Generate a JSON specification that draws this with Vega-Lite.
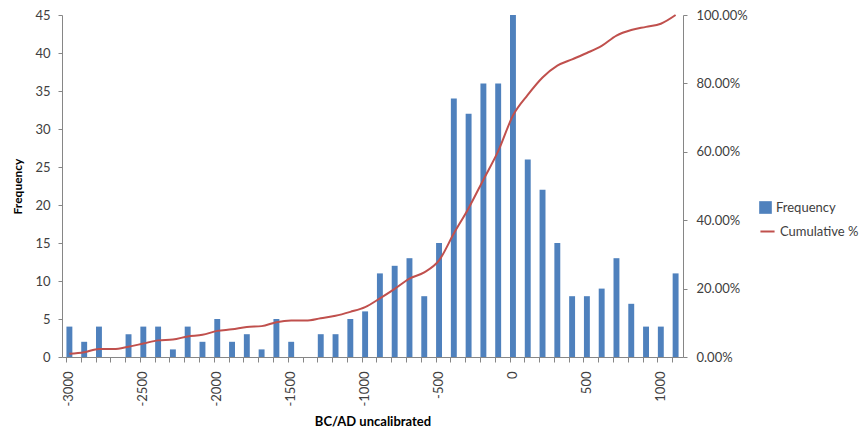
{
  "$schema": "https://vega.github.io/schema/vega-lite/v6.json",
  "width": 621,
  "height": 342,
  "autosize": {"type": "none"},
  "padding": {"left": 62, "top": 15, "right": 182, "bottom": 82},
  "background": "white",
  "config": {
    "font": "Lato",
    "view": {"stroke": null},
    "axis": {"labelFont": "Lato", "titleFont": "Lato", "labelFontSize": 13, "titleFontSize": 12, "labelColor": "#404040", "titleColor": "#000000", "domainColor": "#868686", "tickColor": "#868686", "grid": false}
  },
  "data": {"values": [
    {"bin": -3000, "freq": 4, "cum": 0.00926},
    {"bin": -2900, "freq": 2, "cum": 0.01389},
    {"bin": -2800, "freq": 4, "cum": 0.02315},
    {"bin": -2700, "freq": 0, "cum": 0.02315},
    {"bin": -2600, "freq": 3, "cum": 0.03009},
    {"bin": -2500, "freq": 4, "cum": 0.03935},
    {"bin": -2400, "freq": 4, "cum": 0.04861},
    {"bin": -2300, "freq": 1, "cum": 0.05093},
    {"bin": -2200, "freq": 4, "cum": 0.06019},
    {"bin": -2100, "freq": 2, "cum": 0.06481},
    {"bin": -2000, "freq": 5, "cum": 0.07639},
    {"bin": -1900, "freq": 2, "cum": 0.08102},
    {"bin": -1800, "freq": 3, "cum": 0.08796},
    {"bin": -1700, "freq": 1, "cum": 0.09028},
    {"bin": -1600, "freq": 5, "cum": 0.10185},
    {"bin": -1500, "freq": 2, "cum": 0.10648},
    {"bin": -1400, "freq": 0, "cum": 0.10648},
    {"bin": -1300, "freq": 3, "cum": 0.11343},
    {"bin": -1200, "freq": 3, "cum": 0.12037},
    {"bin": -1100, "freq": 5, "cum": 0.13194},
    {"bin": -1000, "freq": 6, "cum": 0.14583},
    {"bin": -900, "freq": 11, "cum": 0.17130},
    {"bin": -800, "freq": 12, "cum": 0.19907},
    {"bin": -700, "freq": 13, "cum": 0.22917},
    {"bin": -600, "freq": 8, "cum": 0.24769},
    {"bin": -500, "freq": 15, "cum": 0.28241},
    {"bin": -400, "freq": 34, "cum": 0.36111},
    {"bin": -300, "freq": 32, "cum": 0.43519},
    {"bin": -200, "freq": 36, "cum": 0.51852},
    {"bin": -100, "freq": 36, "cum": 0.60185},
    {"bin": 0, "freq": 45, "cum": 0.70602},
    {"bin": 100, "freq": 26, "cum": 0.76620},
    {"bin": 200, "freq": 22, "cum": 0.81713},
    {"bin": 300, "freq": 15, "cum": 0.85185},
    {"bin": 400, "freq": 8, "cum": 0.87037},
    {"bin": 500, "freq": 8, "cum": 0.88889},
    {"bin": 600, "freq": 9, "cum": 0.90972},
    {"bin": 700, "freq": 13, "cum": 0.93981},
    {"bin": 800, "freq": 7, "cum": 0.95602},
    {"bin": 900, "freq": 4, "cum": 0.96528},
    {"bin": 1000, "freq": 4, "cum": 0.97454},
    {"bin": 1100, "freq": 11, "cum": 1.0}
  ]},
  "encoding": {
    "x": {
      "field": "bin", "type": "ordinal", "sort": "ascending",
      "scale": {"paddingInner": 0.6, "paddingOuter": 0.3},
      "axis": {
        "title": "BC/AD uncalibrated", "titleFontWeight": "bold", "titleFontSize": 13, "titlePadding": 10,
        "labelAngle": -90, "labelPadding": 9, "tickSize": 5, "bandPosition": 0,
        "labelExpr": "datum.value % 500 === 0 ? datum.label : ''"
      }
    }
  },
  "layer": [
    {
      "mark": {"type": "bar", "color": "#4F81BD"},
      "encoding": {
        "y": {"field": "freq", "type": "quantitative",
          "scale": {"domain": [0, 45], "nice": false},
          "axis": {"title": "Frequency", "titleFontWeight": "bold", "titlePadding": 10, "values": [0,5,10,15,20,25,30,35,40,45], "tickSize": 4, "labelPadding": 8}},
        "fill": {"datum": "Frequency", "type": "nominal",
          "scale": {"domain": ["Frequency"], "range": ["#4F81BD"]},
          "legend": {"title": null, "orient": "none", "legendX": 697, "legendY": 186, "symbolType": "square", "symbolSize": 160, "labelFont": "Lato", "labelFontSize": 13, "labelColor": "#404040", "symbolStrokeWidth": 0}}
      }
    },
    {
      "mark": {"type": "line", "color": "#C0504D", "strokeWidth": 2, "interpolate": "monotone"},
      "encoding": {
        "y": {"field": "cum", "type": "quantitative",
          "scale": {"domain": [0, 1], "nice": false},
          "axis": {"orient": "right", "title": null, "format": ".2%", "values": [0, 0.2, 0.4, 0.6, 0.8, 1.0], "tickSize": 4, "labelPadding": 9}},
        "stroke": {"datum": "Cumulative %", "type": "nominal",
          "scale": {"domain": ["Cumulative %"], "range": ["#C0504D"]},
          "legend": {"title": null, "orient": "none", "legendX": 697, "legendY": 208, "symbolType": "stroke", "symbolStrokeWidth": 2, "symbolSize": 200, "labelFont": "Lato", "labelFontSize": 13, "labelColor": "#404040"}}
      }
    }
  ],
  "resolve": {"scale": {"y": "independent"}}
}
